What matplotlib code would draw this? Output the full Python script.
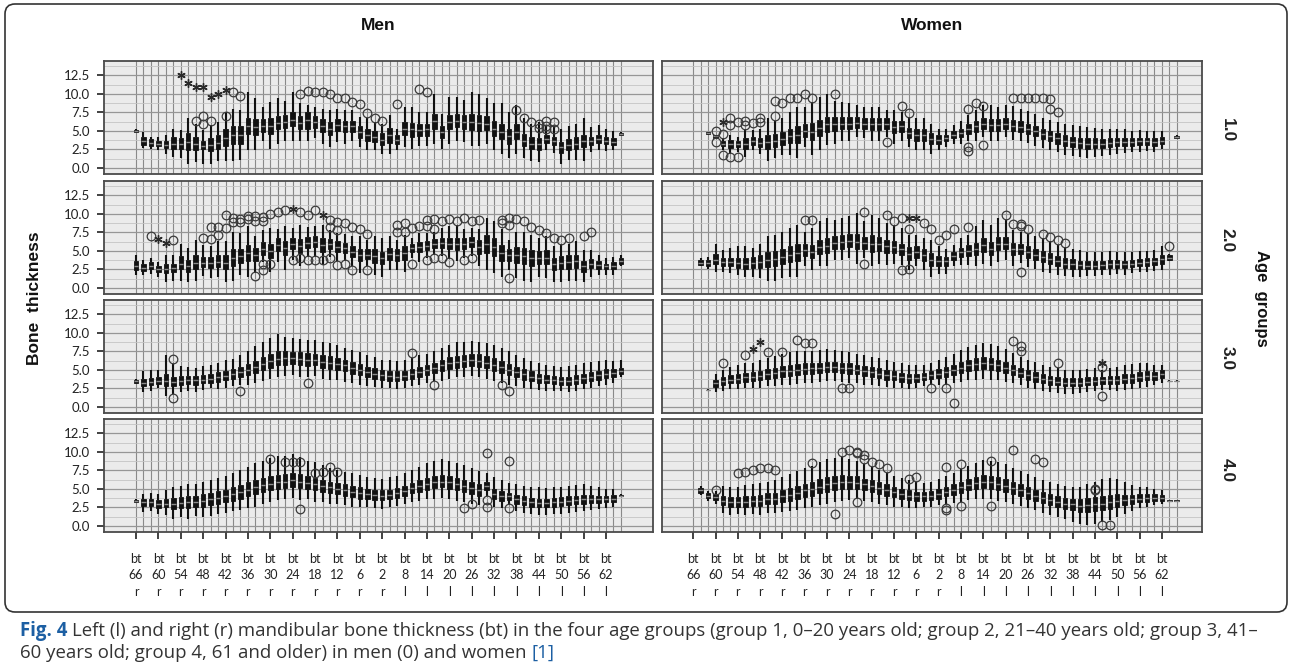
import matplotlib
matplotlib.use('Agg')
import matplotlib.pyplot as plt
from matplotlib.patches import FancyBboxPatch
from matplotlib.transforms import IdentityTransform

plt.rcParams['font.family'] = ['Lato', 'DejaVu Sans']

# x categories: 66 measuring sites, every third one labelled
n_cat = 66
tick_pos = list(range(0, 64, 3))
tick_num = ['66', '60', '54', '48', '42', '36', '30', '24', '18', '12', '6', '2',
            '8', '14', '20', '26', '32', '38', '44', '50', '56', '62']
tick_side = ['r'] * 12 + ['l'] * 10
tick_labels = ['bt\n%s\n%s' % (n, s) for n, s in zip(tick_num, tick_side)]
y_ticks = [0.0, 2.5, 5.0, 7.5, 10.0, 12.5]
row_names = ['1.0', '2.0', '3.0', '4.0']

# box stats per site: (whisker low, q1, median, q3, whisker high), None = no data
men_g1 = [
    (4.8, 4.9, 5.0, 5.1, 5.2), (2.75, 3.1, 3.6, 4.2, 4.85), (2.5, 3.0, 3.4, 3.9, 4.2),
    (2.4, 2.9, 3.3, 3.7, 4.2), (1.9, 2.7, 3.1, 3.7, 4.4), (1.5, 2.6, 3.3, 4.2, 5.3),
    (1.4, 2.5, 3.2, 4.0, 5.1), (0.6, 2.4, 3.5, 4.7, 6.8), (0.8, 2.4, 3.2, 4.2, 6.0),
    (0.6, 2.5, 3.0, 3.6, 5.1), (0.6, 2.3, 3.1, 4.0, 5.8), (1.0, 2.6, 3.4, 4.4, 6.2),
    (1.0, 3.0, 4.0, 5.2, 7.6), (1.0, 3.2, 4.4, 5.6, 8.0), (1.1, 3.3, 4.4, 5.6, 7.8),
    (2.4, 4.6, 5.6, 6.8, 10.3), (2.4, 4.5, 5.5, 6.6, 9.4), (3.7, 4.9, 5.7, 6.6, 8.2),
    (2.6, 4.6, 5.6, 6.7, 8.9), (3.3, 5.2, 6.1, 7.0, 9.4), (3.7, 5.4, 6.2, 7.1, 9.1),
    (3.7, 5.6, 6.5, 7.5, 10.3), (3.7, 5.3, 6.1, 7.0, 8.7), (3.7, 5.3, 6.5, 7.6, 8.5),
    (4.0, 5.4, 6.2, 7.0, 8.2), (3.3, 4.9, 5.7, 6.6, 8.0), (2.8, 4.5, 5.3, 6.2, 7.8),
    (3.5, 5.0, 5.8, 6.6, 8.0), (3.3, 4.8, 5.6, 6.4, 7.8), (3.7, 4.9, 5.6, 6.4, 7.8),
    (2.8, 4.1, 4.8, 5.6, 6.9), (2.4, 3.7, 4.4, 5.3, 6.7), (2.4, 3.5, 4.2, 5.0, 6.2),
    (1.9, 3.1, 3.8, 4.7, 6.0), (1.9, 3.4, 4.4, 5.4, 7.1), (2.4, 3.3, 3.8, 4.4, 5.3),
    (2.8, 4.4, 5.3, 6.2, 8.2), (2.6, 4.2, 5.2, 6.1, 8.2), (2.9, 4.3, 5.1, 5.9, 7.6),
    (2.9, 4.3, 5.2, 6.0, 7.6), (3.3, 5.3, 6.3, 7.3, 10.0), (2.6, 4.0, 4.9, 5.7, 7.3),
    (3.3, 5.2, 6.2, 7.2, 9.6), (3.7, 5.5, 6.4, 7.3, 9.6), (3.5, 5.2, 6.2, 7.1, 9.2),
    (2.9, 5.1, 6.2, 7.3, 10.3), (2.9, 5.0, 6.1, 7.2, 10.0), (3.3, 5.1, 6.0, 7.0, 9.4),
    (2.4, 4.3, 5.3, 6.4, 8.7), (1.9, 3.9, 4.9, 6.0, 8.7), (1.3, 3.2, 4.3, 5.3, 7.6),
    (1.9, 3.9, 4.8, 5.9, 8.5), (1.3, 2.9, 3.7, 4.6, 6.7), (1.0, 2.6, 3.3, 4.2, 6.0),
    (0.8, 2.4, 3.2, 4.1, 6.2), (2.4, 3.4, 3.9, 4.5, 5.8), (2.0, 3.1, 3.6, 4.2, 5.6),
    (0.6, 2.0, 2.8, 3.5, 5.3), (1.1, 2.4, 3.1, 3.9, 5.6), (1.1, 2.6, 3.3, 4.2, 6.0),
    (1.0, 2.8, 3.6, 4.5, 6.8), (2.2, 3.1, 3.6, 4.2, 5.5), (2.4, 3.4, 3.9, 4.5, 5.8),
    (2.3, 3.2, 3.6, 4.2, 5.3), (2.4, 3.1, 3.5, 4.0, 5.0), (4.4, 4.5, 4.6, 4.7, 4.8),
]
men_g1_out = [(8, 6.4), (9, 7.0), (9, 6.0), (10, 6.4), (12, 7.0), (13, 10.2), (14, 9.7),
              (22, 10.0), (23, 10.4), (24, 10.2), (25, 10.3), (26, 10.0), (27, 9.5),
              (28, 9.5), (29, 8.9), (30, 8.6), (31, 7.4), (32, 6.8), (33, 6.4), (35, 8.6),
              (38, 10.6), (39, 10.3), (51, 7.8), (52, 6.8), (53, 6.2), (54, 6.0),
              (54, 5.45), (55, 6.35), (55, 5.6), (55, 5.3), (56, 6.2), (56, 5.3)]
men_g1_ext = [(6, 12.5), (7, 11.4), (8, 10.9), (9, 10.9), (10, 9.6), (11, 10.0), (12, 10.5)]

men_g2 = [
    (1.7, 2.4, 2.9, 3.6, 4.45), (1.7, 2.3, 2.7, 3.2, 3.8), (1.9, 2.5, 3.0, 3.5, 4.1),
    (1.5, 2.2, 2.6, 3.0, 3.5), (0.8, 2.0, 2.6, 3.3, 4.45), (1.0, 2.1, 2.7, 3.3, 4.45),
    (1.0, 2.5, 3.3, 4.3, 6.0), (0.8, 2.2, 2.9, 3.8, 5.4), (1.0, 2.6, 3.4, 4.4, 6.5),
    (1.6, 2.8, 3.4, 4.2, 5.8), (1.4, 2.7, 3.4, 4.2, 5.6), (1.5, 2.8, 3.5, 4.4, 6.3),
    (0.8, 2.5, 3.4, 4.4, 6.3), (1.0, 3.0, 4.0, 5.2, 7.6), (1.7, 3.4, 4.3, 5.3, 7.4),
    (1.5, 3.6, 4.7, 5.8, 8.3), (2.0, 3.6, 4.4, 5.4, 7.0), (3.5, 4.5, 5.3, 6.2, 7.8),
    (2.2, 4.0, 5.0, 6.0, 8.1), (3.5, 5.0, 5.8, 6.7, 7.9), (2.4, 4.4, 5.4, 6.4, 8.3),
    (3.8, 5.2, 5.9, 6.7, 8.1), (2.9, 4.7, 5.6, 6.6, 8.5), (4.2, 5.4, 6.1, 6.9, 8.2),
    (4.2, 5.5, 6.2, 7.0, 8.3), (3.1, 4.9, 5.8, 6.7, 8.5), (4.2, 5.3, 5.9, 6.6, 7.8),
    (3.6, 4.8, 5.5, 6.3, 7.4), (3.6, 4.7, 5.4, 6.1, 7.3), (2.9, 4.2, 4.9, 5.7, 7.0),
    (2.0, 3.6, 4.4, 5.3, 7.0), (2.9, 3.9, 4.5, 5.2, 6.5), (1.7, 3.4, 4.3, 5.2, 7.0),
    (1.5, 3.2, 4.0, 4.9, 6.7), (2.4, 3.8, 4.6, 5.4, 7.0), (2.4, 3.7, 4.4, 5.2, 6.5),
    (2.2, 3.8, 4.7, 5.6, 7.2), (4.0, 4.9, 5.4, 5.9, 6.7), (3.5, 4.8, 5.5, 6.2, 7.4),
    (4.0, 5.1, 5.7, 6.3, 7.4), (4.4, 5.4, 6.0, 6.6, 7.6), (4.3, 5.4, 6.1, 6.8, 8.1),
    (3.9, 5.3, 6.0, 6.8, 8.3), (3.6, 5.1, 5.9, 6.8, 8.5), (4.1, 5.3, 6.0, 6.7, 7.9),
    (4.3, 5.5, 6.2, 6.9, 8.1), (2.9, 4.6, 5.5, 6.5, 7.9), (2.4, 4.7, 5.9, 7.1, 9.45),
    (2.0, 4.3, 5.5, 6.7, 9.0), (1.5, 3.6, 4.7, 5.8, 7.9), (2.4, 3.7, 4.4, 5.2, 6.5),
    (1.3, 3.4, 4.4, 5.5, 7.6), (1.0, 3.2, 4.3, 5.4, 7.6), (0.8, 2.9, 4.0, 5.1, 7.2),
    (1.5, 3.2, 4.1, 5.0, 6.7), (1.3, 3.2, 4.1, 5.1, 7.0), (0.8, 2.4, 3.2, 4.0, 5.6),
    (0.8, 2.5, 3.4, 4.3, 6.0), (1.0, 2.6, 3.5, 4.4, 6.0), (1.0, 2.7, 3.6, 4.5, 6.3),
    (0.8, 2.2, 2.9, 3.7, 5.1), (1.5, 2.7, 3.3, 3.9, 5.1), (1.7, 2.6, 3.1, 3.6, 4.45),
    (1.7, 2.5, 2.9, 3.3, 4.0), (1.7, 2.5, 3.0, 3.5, 4.2), (2.9, 3.2, 3.6, 4.1, 4.45),
]
men_g2_out = [(2, 7.0), (5, 6.5), (9, 6.7), (10, 6.6), (10, 8.2), (11, 7.2), (11, 8.2),
              (12, 8.1), (12, 9.8), (13, 9.45), (13, 8.9), (14, 9.3), (14, 8.9), (15, 9.7),
              (15, 9.3), (16, 9.7), (16, 9.0), (16, 1.6), (17, 9.6), (17, 9.1), (17, 2.4),
              (17, 3.2), (18, 10.0), (18, 3.2), (19, 10.2), (20, 10.5), (21, 3.8),
              (22, 10.2), (22, 4.0), (23, 9.8), (23, 3.8), (24, 10.5), (24, 3.8), (25, 3.8),
              (26, 9.2), (26, 8.2), (26, 4.0), (27, 8.9), (27, 7.8), (27, 3.1), (28, 8.7),
              (28, 3.2), (29, 8.2), (29, 2.4), (30, 8.0), (31, 7.3), (31, 2.4), (35, 7.6),
              (35, 8.5), (36, 7.6), (36, 8.8), (37, 8.1), (37, 3.2), (38, 8.4), (39, 8.3),
              (39, 9.2), (39, 3.8), (40, 9.3), (40, 8.0), (40, 4.0), (41, 9.0), (41, 4.0),
              (42, 9.3), (42, 3.5), (43, 9.1), (44, 9.5), (44, 3.8), (45, 9.0), (45, 4.0),
              (46, 9.2), (49, 9.2), (49, 8.8), (50, 9.45), (50, 8.5), (50, 1.3), (51, 9.3),
              (52, 9.1), (53, 8.2), (54, 7.8), (55, 7.4), (56, 6.7), (57, 6.5), (58, 6.7),
              (60, 7.0), (61, 7.6)]
men_g2_ext = [(3, 6.6), (4, 6.1), (21, 10.7), (25, 9.8)]

men_g3 = [
    (3.2, 3.3, 3.5, 3.7, 3.8), (2.0, 2.8, 3.3, 3.8, 4.8), (2.2, 3.0, 3.4, 3.9, 5.0),
    (2.5, 3.1, 3.5, 4.0, 5.0), (1.5, 2.8, 3.5, 4.4, 7.0), (1.8, 2.8, 3.4, 4.1, 5.8),
    (2.0, 2.9, 3.5, 4.2, 5.5), (2.2, 3.1, 3.6, 4.2, 5.4), (2.0, 3.0, 3.6, 4.2, 5.3),
    (2.3, 3.2, 3.7, 4.3, 5.5), (2.5, 3.3, 3.8, 4.4, 5.6), (2.4, 3.4, 4.0, 4.7, 6.0),
    (2.6, 3.6, 4.2, 4.9, 6.3), (2.8, 3.8, 4.4, 5.1, 6.5), (3.0, 4.0, 4.7, 5.4, 7.0),
    (3.0, 4.3, 5.0, 5.8, 7.6), (3.3, 4.6, 5.4, 6.2, 8.2), (3.5, 5.0, 5.8, 6.7, 8.8),
    (3.8, 5.3, 6.2, 7.1, 9.3), (4.0, 5.6, 6.5, 7.5, 9.8), (4.2, 5.7, 6.6, 7.5, 9.5),
    (4.3, 5.8, 6.6, 7.4, 9.3), (4.0, 5.6, 6.5, 7.4, 9.2), (4.0, 5.5, 6.4, 7.3, 9.0),
    (4.2, 5.6, 6.4, 7.2, 9.0), (3.8, 5.3, 6.1, 7.0, 8.8), (3.6, 5.1, 6.0, 6.9, 8.6),
    (3.6, 5.0, 5.8, 6.6, 8.3), (3.4, 4.8, 5.6, 6.4, 8.0), (3.2, 4.5, 5.3, 6.1, 7.7),
    (3.0, 4.3, 5.0, 5.8, 7.4), (2.8, 4.0, 4.7, 5.4, 7.0), (2.7, 3.8, 4.5, 5.2, 6.7),
    (2.6, 3.7, 4.3, 5.0, 6.4), (2.5, 3.5, 4.2, 4.9, 6.3), (2.4, 3.5, 4.1, 4.8, 6.2),
    (2.5, 3.6, 4.2, 4.9, 6.4), (2.8, 3.8, 4.4, 5.1, 6.6), (3.0, 4.0, 4.7, 5.4, 7.0),
    (3.3, 4.3, 5.0, 5.7, 7.2), (3.5, 4.6, 5.3, 6.0, 7.6), (3.5, 4.8, 5.6, 6.4, 8.0),
    (3.8, 5.1, 5.9, 6.7, 8.4), (4.0, 5.3, 6.1, 6.9, 8.7), (4.0, 5.4, 6.2, 7.0, 8.8),
    (4.2, 5.5, 6.3, 7.1, 8.9), (4.0, 5.4, 6.2, 7.1, 8.8), (3.8, 5.2, 6.0, 6.9, 8.6),
    (3.5, 4.9, 5.7, 6.6, 8.3), (3.3, 4.6, 5.4, 6.2, 8.0), (3.0, 4.3, 5.0, 5.8, 7.5),
    (2.8, 4.0, 4.7, 5.4, 7.0), (2.6, 3.7, 4.4, 5.1, 6.6), (2.4, 3.5, 4.1, 4.8, 6.2),
    (2.3, 3.3, 3.9, 4.5, 5.9), (2.2, 3.2, 3.7, 4.3, 5.6), (2.2, 3.1, 3.6, 4.2, 5.5),
    (2.1, 3.0, 3.5, 4.1, 5.4), (2.0, 3.0, 3.5, 4.1, 5.5), (2.2, 3.1, 3.7, 4.3, 5.7),
    (2.4, 3.3, 3.9, 4.5, 5.9), (2.6, 3.5, 4.1, 4.7, 6.1), (2.8, 3.7, 4.3, 4.9, 6.2),
    (3.0, 3.9, 4.5, 5.1, 6.3), (3.3, 4.1, 4.6, 5.1, 6.2), (4.0, 4.4, 4.8, 5.3, 6.3),
]
men_g3_out = [(5, 6.5), (5, 1.2), (14, 2.2), (23, 3.3), (37, 7.3), (40, 3.0), (49, 2.9), (50, 2.2)]
men_g3_ext = []

men_g4 = [
    (3.2, 3.3, 3.4, 3.5, 3.6), (1.9, 2.7, 3.2, 3.7, 4.3), (2.0, 2.7, 3.2, 3.7, 4.5),
    (1.6, 2.4, 2.9, 3.5, 4.3), (1.5, 2.5, 3.0, 3.6, 4.8), (1.0, 2.3, 3.0, 3.8, 5.3),
    (1.2, 2.4, 3.1, 3.9, 5.4), (1.0, 2.4, 3.2, 4.0, 5.6), (1.3, 2.6, 3.3, 4.1, 5.7),
    (1.2, 2.6, 3.4, 4.3, 6.0), (1.4, 2.8, 3.6, 4.5, 6.2), (1.6, 3.0, 3.8, 4.7, 6.5),
    (1.8, 3.2, 4.0, 4.9, 6.8), (2.0, 3.4, 4.3, 5.2, 7.2), (2.2, 3.7, 4.6, 5.5, 7.6),
    (2.4, 4.0, 4.9, 5.9, 8.0), (2.6, 4.3, 5.2, 6.2, 8.5), (3.0, 4.6, 5.5, 6.5, 8.8),
    (3.2, 4.8, 5.7, 6.7, 9.2), (3.5, 5.0, 5.9, 6.9, 9.4), (3.6, 5.1, 6.0, 7.0, 9.5),
    (3.8, 5.3, 6.2, 7.1, 9.7), (3.5, 5.1, 6.0, 7.0, 9.3), (3.6, 5.0, 5.8, 6.7, 8.8),
    (3.3, 4.8, 5.6, 6.5, 8.6), (3.2, 4.6, 5.4, 6.2, 8.2), (3.0, 4.4, 5.2, 6.0, 7.8),
    (3.0, 4.3, 5.0, 5.8, 7.5), (2.8, 4.1, 4.8, 5.6, 7.3), (2.6, 3.9, 4.6, 5.4, 7.1),
    (2.5, 3.7, 4.4, 5.2, 6.9), (2.5, 3.6, 4.3, 5.0, 6.6), (2.4, 3.5, 4.2, 4.9, 6.5),
    (2.3, 3.5, 4.1, 4.8, 6.4), (2.5, 3.6, 4.2, 4.9, 6.6), (2.7, 3.8, 4.4, 5.1, 6.8),
    (3.0, 4.1, 4.7, 5.4, 7.2), (3.2, 4.4, 5.1, 5.8, 7.6), (3.4, 4.6, 5.4, 6.2, 8.0),
    (3.6, 4.9, 5.7, 6.5, 8.5), (3.7, 5.1, 5.9, 6.7, 8.8), (3.8, 5.2, 6.0, 6.9, 9.0),
    (3.6, 5.0, 5.9, 6.8, 8.8), (3.4, 4.8, 5.6, 6.5, 8.5), (3.2, 4.6, 5.4, 6.2, 8.2),
    (3.0, 4.3, 5.1, 5.9, 7.8), (2.8, 4.0, 4.8, 5.6, 7.4), (4.0, 4.8, 5.4, 6.0, 7.2),
    (2.5, 3.6, 4.3, 5.0, 6.6), (2.4, 3.4, 4.0, 4.7, 6.2), (2.8, 3.5, 4.0, 4.5, 5.8),
    (2.0, 3.0, 3.6, 4.2, 5.6), (1.8, 2.8, 3.4, 4.0, 5.4), (1.6, 2.6, 3.2, 3.8, 5.2),
    (1.5, 2.5, 3.1, 3.7, 5.2), (1.5, 2.5, 3.1, 3.7, 5.1), (1.6, 2.6, 3.2, 3.8, 5.2),
    (1.6, 2.7, 3.3, 3.9, 5.3), (1.8, 2.8, 3.4, 4.0, 5.4), (1.9, 2.9, 3.5, 4.1, 5.5),
    (2.0, 3.0, 3.6, 4.2, 5.6), (2.2, 3.1, 3.6, 4.2, 5.4), (2.3, 3.1, 3.6, 4.1, 5.2),
    (2.4, 3.2, 3.6, 4.1, 5.0), (2.6, 3.3, 3.7, 4.2, 5.0), (3.9, 4.0, 4.1, 4.2, 4.3),
]
men_g4_out = [(18, 9.0), (20, 8.6), (21, 8.6), (22, 8.6), (22, 2.3), (24, 7.1), (25, 7.3),
              (26, 7.9), (27, 7.3), (44, 2.4), (45, 3.0), (47, 9.9), (47, 3.5), (47, 2.5),
              (50, 8.8), (50, 2.4)]
men_g4_ext = []

women_g1 = [
    None, None, (4.5, 4.6, 4.7, 4.8, 4.9),
    (4.0, 4.1, 4.3, 4.4, 4.5), (2.4, 2.9, 3.3, 3.7, 4.0), (1.9, 2.7, 3.2, 3.8, 4.4),
    (2.2, 2.8, 3.2, 3.7, 4.2), (1.5, 2.6, 3.3, 4.1, 5.3), (2.4, 3.1, 3.6, 4.2, 5.1),
    (1.9, 2.8, 3.4, 4.1, 5.3), (1.0, 2.6, 3.5, 4.5, 6.7), (1.3, 2.8, 3.6, 4.6, 6.4),
    (1.7, 3.1, 3.9, 4.9, 6.7), (1.7, 3.4, 4.3, 5.3, 7.6), (1.3, 3.4, 4.5, 5.6, 8.2),
    (2.8, 4.2, 5.0, 5.9, 8.2), (1.7, 3.8, 4.9, 6.1, 8.9), (2.4, 4.3, 5.4, 6.5, 9.6),
    (3.1, 4.9, 5.9, 6.9, 10.0), (3.3, 5.0, 5.9, 6.9, 9.1), (3.7, 5.2, 6.0, 6.9, 8.9),
    (3.7, 5.2, 6.0, 6.9, 8.7), (4.2, 5.4, 6.1, 6.9, 8.5), (4.0, 5.3, 6.0, 6.8, 8.2),
    (3.7, 5.1, 5.9, 6.7, 8.2), (3.7, 5.1, 5.9, 6.7, 8.2), (4.2, 5.3, 6.0, 6.7, 7.8),
    (3.3, 4.7, 5.5, 6.3, 7.8), (3.7, 4.9, 5.6, 6.3, 7.6), (2.8, 4.0, 4.7, 5.4, 6.9),
    (2.4, 3.7, 4.4, 5.2, 6.7), (2.4, 3.7, 4.4, 5.2, 6.7), (1.9, 3.2, 3.9, 4.7, 6.0),
    (2.4, 3.3, 3.8, 4.4, 5.3), (2.8, 3.6, 4.0, 4.5, 5.3), (3.3, 4.0, 4.5, 5.0, 5.8),
    (3.3, 4.2, 4.7, 5.3, 6.4), (3.6, 4.6, 5.2, 5.9, 7.1), (3.7, 4.9, 5.6, 6.3, 7.8),
    (4.2, 5.3, 6.0, 6.7, 8.5), (3.7, 5.0, 5.8, 6.6, 8.5), (3.7, 5.0, 5.8, 6.6, 8.2),
    (4.2, 5.3, 6.0, 6.7, 8.5), (3.8, 5.0, 5.7, 6.5, 8.4), (3.6, 4.8, 5.5, 6.3, 8.0),
    (3.4, 4.6, 5.3, 6.0, 7.7), (3.0, 4.3, 5.0, 5.7, 7.3), (2.7, 3.9, 4.6, 5.3, 6.8),
    (2.4, 3.6, 4.3, 5.0, 6.5), (2.2, 3.3, 4.0, 4.7, 6.2), (1.8, 3.0, 3.7, 4.4, 5.9),
    (1.6, 2.8, 3.5, 4.2, 5.8), (1.5, 2.7, 3.4, 4.1, 5.6), (1.4, 2.6, 3.3, 4.0, 5.5),
    (1.5, 2.7, 3.3, 4.0, 5.4), (1.6, 2.7, 3.3, 3.9, 5.2), (1.8, 2.8, 3.4, 4.0, 5.2),
    (1.9, 2.9, 3.5, 4.1, 5.3), (2.0, 3.0, 3.5, 4.1, 5.2), (2.1, 3.0, 3.5, 4.0, 5.0),
    (2.2, 3.1, 3.6, 4.1, 5.1), (2.3, 3.1, 3.6, 4.1, 5.0), (2.2, 3.0, 3.5, 4.1, 5.0),
    (2.5, 3.2, 3.7, 4.2, 5.0), None, (4.0, 4.1, 4.2, 4.3, 4.4),
]
women_g1_out = [(3, 5.0), (3, 3.5), (4, 4.6), (4, 1.7), (5, 6.7), (5, 5.8), (5, 1.5), (6, 6.2),
                (6, 1.5), (7, 6.4), (7, 5.8), (8, 6.1), (9, 6.8), (9, 6.2), (11, 9.0), (11, 7.0),
                (12, 8.8), (13, 9.4), (14, 9.4), (15, 10.0), (16, 9.4), (19, 10.0), (26, 3.5),
                (28, 8.3), (29, 7.4), (37, 7.9), (37, 2.8), (37, 2.3), (38, 8.7), (39, 8.3),
                (39, 3.1), (43, 9.5), (44, 9.5), (45, 9.4), (46, 9.4), (47, 9.5), (48, 9.3),
                (48, 7.9), (49, 7.6)]
women_g1_ext = [(4, 6.2)]

women_g2 = [
    None, (2.9, 3.1, 3.4, 3.8, 4.0), (2.6, 3.0, 3.4, 3.8, 4.2),
    (2.2, 3.2, 3.8, 4.6, 6.0), (2.2, 3.0, 3.5, 4.1, 5.1), (2.0, 2.9, 3.5, 4.1, 5.4),
    (1.7, 2.7, 3.4, 4.1, 5.7), (1.5, 2.6, 3.3, 4.1, 5.6), (1.5, 2.7, 3.4, 4.2, 5.4),
    (1.3, 2.7, 3.5, 4.4, 6.0), (1.0, 2.8, 3.8, 4.9, 7.0), (1.0, 2.9, 3.9, 5.0, 7.2),
    (1.3, 3.2, 4.2, 5.3, 7.6), (1.5, 3.5, 4.5, 5.6, 8.1), (1.5, 3.6, 4.7, 5.9, 8.5),
    (2.9, 4.3, 5.1, 5.9, 7.6), (2.4, 4.0, 4.9, 5.8, 8.1), (2.9, 4.6, 5.5, 6.5, 9.0),
    (2.9, 4.7, 5.7, 6.7, 9.45), (3.8, 5.3, 6.1, 7.0, 9.2), (3.8, 5.3, 6.2, 7.1, 9.45),
    (4.0, 5.5, 6.4, 7.3, 9.7), (3.3, 5.2, 6.2, 7.3, 10.1), (4.0, 5.3, 6.1, 6.9, 9.0),
    (2.9, 4.9, 6.0, 7.1, 9.9), (3.3, 5.0, 5.9, 6.9, 9.45), (3.1, 4.7, 5.6, 6.5, 8.8),
    (3.3, 4.7, 5.5, 6.3, 8.5), (3.1, 4.4, 5.2, 6.0, 8.1), (2.4, 3.8, 4.6, 5.5, 7.2),
    (2.9, 4.1, 4.8, 5.6, 7.2), (2.4, 3.7, 4.5, 5.3, 6.7), (1.5, 3.0, 3.8, 4.7, 6.5),
    (1.9, 3.0, 3.6, 4.3, 5.6), (1.9, 3.0, 3.6, 4.2, 5.3), (2.9, 3.8, 4.3, 4.9, 5.8),
    (3.1, 4.2, 4.8, 5.4, 6.7), (3.1, 4.3, 5.0, 5.8, 7.2), (2.9, 4.4, 5.2, 6.1, 8.3),
    (3.3, 4.9, 5.8, 6.7, 9.2), (2.9, 4.5, 5.3, 6.2, 8.5), (3.5, 5.1, 6.0, 6.9, 9.45),
    (3.8, 5.2, 6.0, 6.9, 9.2), (3.0, 4.5, 5.3, 6.1, 7.8), (3.4, 4.6, 5.3, 6.0, 7.5),
    (2.8, 4.1, 4.8, 5.6, 7.3), (2.5, 3.8, 4.5, 5.3, 7.0), (2.2, 3.5, 4.2, 5.0, 6.7),
    (2.0, 3.2, 3.9, 4.7, 6.3), (1.8, 2.9, 3.6, 4.3, 5.8), (1.6, 2.7, 3.3, 4.0, 5.5),
    (1.5, 2.6, 3.2, 3.9, 5.3), (1.5, 2.5, 3.1, 3.7, 5.1), (1.6, 2.5, 3.0, 3.6, 4.8),
    (1.6, 2.5, 3.0, 3.6, 4.8), (1.7, 2.6, 3.1, 3.7, 4.9), (1.8, 2.7, 3.2, 3.8, 5.0),
    (1.9, 2.7, 3.2, 3.8, 4.9), (1.8, 2.7, 3.2, 3.7, 4.8), (2.0, 2.8, 3.3, 3.8, 4.8),
    (2.1, 2.9, 3.4, 3.9, 5.0), (2.2, 3.0, 3.5, 4.0, 5.0), (2.3, 3.1, 3.6, 4.1, 5.1),
    (2.4, 3.3, 3.9, 4.5, 5.7), (3.6, 3.8, 4.1, 4.4, 4.6), None,
]
women_g2_out = [(15, 9.2), (16, 9.2), (23, 10.3), (23, 3.3), (26, 9.9), (27, 9.0), (28, 9.45),
                (28, 2.4), (29, 7.9), (29, 2.6), (31, 8.8), (32, 7.9), (33, 6.5), (34, 7.2),
                (35, 7.9), (37, 8.2), (42, 9.8), (43, 8.6), (44, 8.6), (44, 8.3), (44, 2.2),
                (45, 8.0), (47, 7.3), (48, 6.9), (49, 6.5), (50, 6.1), (64, 5.6)]
women_g2_ext = [(29, 9.45), (30, 9.45)]

women_g3 = [
    None, None, (2.2, 2.25, 2.3, 2.35, 2.4),
    (2.0, 2.7, 3.2, 3.7, 4.5), (2.2, 3.0, 3.5, 4.0, 5.0), (2.4, 3.2, 3.7, 4.3, 5.4),
    (2.4, 3.3, 3.8, 4.4, 5.6), (2.5, 3.4, 4.0, 4.6, 5.9), (2.6, 3.5, 4.1, 4.7, 6.0),
    (2.6, 3.6, 4.2, 4.9, 6.3), (2.8, 3.8, 4.4, 5.1, 6.6), (2.8, 3.9, 4.6, 5.3, 6.9),
    (3.0, 4.1, 4.8, 5.5, 7.1), (3.0, 4.2, 4.9, 5.7, 7.4), (3.1, 4.3, 5.0, 5.8, 7.6),
    (3.2, 4.4, 5.1, 5.9, 7.6), (3.3, 4.5, 5.2, 5.9, 7.6), (3.4, 4.6, 5.3, 6.0, 7.7),
    (3.5, 4.7, 5.4, 6.1, 7.8), (3.5, 4.7, 5.4, 6.1, 7.7), (3.4, 4.6, 5.3, 6.0, 7.6),
    (3.3, 4.5, 5.2, 5.9, 7.4), (3.2, 4.4, 5.0, 5.7, 7.2), (3.0, 4.2, 4.8, 5.5, 7.0),
    (2.9, 4.0, 4.7, 5.4, 6.8), (2.8, 3.9, 4.5, 5.2, 6.6), (2.7, 3.7, 4.3, 5.0, 6.4),
    (2.6, 3.6, 4.2, 4.8, 6.1), (2.5, 3.4, 4.0, 4.6, 5.9), (2.4, 3.3, 3.9, 4.5, 5.7),
    (2.6, 3.4, 3.9, 4.5, 5.6), (2.8, 3.6, 4.1, 4.6, 5.7), (3.0, 3.8, 4.3, 4.9, 6.0),
    (3.0, 3.9, 4.5, 5.1, 6.3), (3.0, 4.0, 4.7, 5.4, 6.8), (3.2, 4.3, 5.0, 5.7, 7.2),
    (3.4, 4.6, 5.3, 6.1, 7.7), (3.6, 4.8, 5.6, 6.4, 8.1), (3.7, 5.0, 5.8, 6.6, 8.4),
    (3.8, 5.1, 5.9, 6.7, 8.6), (3.7, 5.0, 5.8, 6.6, 8.5), (3.6, 4.9, 5.6, 6.4, 8.2),
    (3.4, 4.6, 5.3, 6.1, 7.8), (3.2, 4.3, 5.0, 5.7, 7.3), (2.9, 4.0, 4.6, 5.3, 6.8),
    (2.6, 3.7, 4.3, 5.0, 6.4), (2.4, 3.4, 4.0, 4.7, 6.1), (2.2, 3.2, 3.8, 4.4, 5.7),
    (2.0, 3.0, 3.6, 4.2, 5.4), (1.9, 2.9, 3.4, 4.0, 5.2), (1.8, 2.8, 3.3, 3.9, 5.0),
    (1.8, 2.8, 3.3, 3.9, 5.0), (1.9, 2.8, 3.3, 3.9, 5.0), (2.0, 2.9, 3.4, 4.0, 5.1),
    (2.2, 3.0, 3.5, 4.1, 5.2), (2.3, 3.1, 3.6, 4.1, 5.0), (2.3, 3.1, 3.6, 4.2, 5.3),
    (2.2, 3.1, 3.6, 4.2, 5.4), (2.3, 3.2, 3.8, 4.4, 5.6), (2.4, 3.3, 3.9, 4.5, 5.8),
    (2.6, 3.5, 4.1, 4.7, 6.0), (2.7, 3.6, 4.2, 4.8, 6.0), (3.0, 3.7, 4.2, 4.7, 5.6),
    (3.3, 3.9, 4.4, 5.0, 5.7), (3.4, 3.45, 3.5, 3.55, 3.6), (3.4, 3.45, 3.5, 3.55, 3.6),
]
women_g3_out = [(4, 6.0), (7, 7.0), (10, 7.4), (12, 7.4), (14, 9.1), (15, 8.6), (16, 8.6),
                (20, 2.5), (21, 2.5), (32, 2.5), (34, 2.5), (35, 0.6), (43, 8.9), (44, 8.2),
                (44, 7.6), (49, 6.0), (55, 5.4), (55, 1.5)]
women_g3_ext = [(8, 7.8), (9, 8.7), (55, 6.0)]

women_g4 = [
    None, (4.2, 4.5, 4.8, 5.1, 5.4), (3.4, 3.8, 4.1, 4.4, 4.7),
    (3.0, 3.5, 3.9, 4.3, 4.7), (1.8, 2.8, 3.4, 4.1, 5.4), (1.5, 2.6, 3.2, 3.9, 5.3),
    (1.6, 2.6, 3.2, 3.9, 5.3), (1.5, 2.6, 3.3, 4.0, 5.5), (1.6, 2.7, 3.4, 4.1, 5.6),
    (1.5, 2.7, 3.4, 4.2, 5.8), (1.7, 2.9, 3.6, 4.4, 6.0), (1.8, 3.0, 3.7, 4.5, 6.2),
    (1.9, 3.2, 4.0, 4.8, 6.6), (2.0, 3.4, 4.2, 5.1, 7.0), (2.2, 3.6, 4.5, 5.4, 7.4),
    (2.4, 3.9, 4.8, 5.7, 7.8), (2.6, 4.1, 5.0, 6.0, 8.1), (2.8, 4.4, 5.3, 6.3, 8.6),
    (3.0, 4.6, 5.6, 6.6, 9.0), (3.2, 4.8, 5.8, 6.8, 9.2), (3.4, 5.0, 5.9, 6.9, 9.3),
    (3.5, 5.0, 5.9, 6.8, 9.0), (3.6, 5.0, 5.8, 6.7, 8.7), (3.4, 4.8, 5.6, 6.4, 8.3),
    (3.2, 4.6, 5.4, 6.2, 8.0), (3.0, 4.3, 5.1, 5.9, 7.6), (2.8, 4.1, 4.8, 5.6, 7.2),
    (2.6, 3.9, 4.6, 5.3, 6.8), (2.5, 3.7, 4.3, 5.0, 6.5), (2.4, 3.5, 4.1, 4.8, 6.2),
    (2.4, 3.4, 4.0, 4.6, 5.9), (2.5, 3.4, 4.0, 4.6, 5.8), (2.6, 3.5, 4.1, 4.7, 6.0),
    (2.8, 3.7, 4.3, 5.0, 6.3), (3.0, 4.0, 4.6, 5.3, 6.8), (3.1, 4.2, 4.9, 5.6, 7.2),
    (3.3, 4.5, 5.2, 6.0, 7.7), (3.5, 4.8, 5.5, 6.3, 8.1), (3.6, 5.0, 5.8, 6.6, 8.5),
    (3.7, 5.1, 6.0, 6.9, 8.9), (3.6, 5.0, 5.9, 6.8, 8.8), (3.4, 4.8, 5.7, 6.6, 8.6),
    (3.2, 4.6, 5.4, 6.3, 8.3), (3.0, 4.3, 5.1, 5.9, 7.8), (2.7, 4.0, 4.8, 5.6, 7.4),
    (2.4, 3.7, 4.4, 5.2, 7.0), (2.1, 3.4, 4.1, 4.9, 6.6), (1.8, 3.1, 3.8, 4.6, 6.2),
    (1.5, 2.8, 3.5, 4.3, 5.9), (1.2, 2.5, 3.2, 4.0, 5.6), (0.9, 2.3, 3.0, 3.8, 5.4),
    (0.6, 2.1, 2.9, 3.7, 5.3), (0.3, 1.9, 2.7, 3.6, 5.3), (0.2, 1.9, 2.8, 3.8, 5.6),
    (0.3, 2.0, 2.9, 3.9, 6.0), (0.5, 2.1, 3.0, 4.0, 6.3), (0.8, 2.3, 3.2, 4.2, 6.5),
    (1.2, 2.6, 3.4, 4.3, 6.3), (1.6, 2.8, 3.5, 4.2, 5.9), (2.0, 3.0, 3.6, 4.2, 5.5),
    (2.4, 3.2, 3.7, 4.3, 5.3), (2.6, 3.3, 3.8, 4.3, 5.2), (2.8, 3.4, 3.8, 4.3, 5.0),
    (2.9, 3.4, 3.8, 4.2, 4.8), (3.3, 3.35, 3.4, 3.45, 3.5), (3.3, 3.35, 3.4, 3.45, 3.5),
]
women_g4_out = [(3, 4.8), (6, 7.1), (7, 7.3), (8, 7.5), (9, 7.8), (10, 7.8), (11, 7.6), (16, 8.5),
                (19, 1.6), (20, 10.0), (21, 10.2), (22, 10.0), (22, 9.8), (23, 9.6), (23, 9.0),
                (24, 8.6), (22, 3.2), (25, 8.3), (26, 7.8), (29, 6.3), (30, 6.6), (34, 8.0),
                (34, 2.4), (34, 2.2), (36, 8.4), (36, 2.7), (40, 8.7), (40, 2.7), (43, 10.2),
                (46, 9.1), (47, 8.6), (54, 5.0), (54, 4.8), (55, 0.1), (56, 0.1)]
women_g4_ext = []

men_panels = [(men_g1, men_g1_out, men_g1_ext), (men_g2, men_g2_out, men_g2_ext),
              (men_g3, men_g3_out, men_g3_ext), (men_g4, men_g4_out, men_g4_ext)]
women_panels = [(women_g1, women_g1_out, women_g1_ext), (women_g2, women_g2_out, women_g2_ext),
                (women_g3, women_g3_out, women_g3_ext), (women_g4, women_g4_out, women_g4_ext)]


def draw_panel(ax, boxes, outs, exts):
    stats, pos = [], []
    for i, b in enumerate(boxes):
        if b is None:
            continue
        lo, q1, med, q3, hi = b
        stats.append(dict(whislo=lo, q1=q1, med=med, q3=q3, whishi=hi, fliers=[]))
        pos.append(i)
    ax.bxp(stats, positions=pos, widths=0.6, patch_artist=True, showcaps=False,
           showfliers=False, manage_ticks=False,
           boxprops=dict(facecolor='#111111', edgecolor='#111111', linewidth=0.6),
           whiskerprops=dict(color='#111111', linewidth=1.5, solid_capstyle='butt'),
           medianprops=dict(color='#8c8c8c', linewidth=1.0))
    if outs:
        ax.plot([o[0] for o in outs], [o[1] for o in outs], 'o', ls='none', ms=6.2,
                mfc='none', mec='#3a3a3a', mew=0.9, zorder=4)
    if exts:
        ax.plot([e[0] for e in exts], [e[1] for e in exts], marker=(6, 2, 0), ls='none',
                ms=6, mec='#2a2a2a', mew=1.0, zorder=4)


W, H = 1292, 666
fig = plt.figure(figsize=(W / 100, H / 100), dpi=100)

row_tops = [61, 181, 300, 419]
row_h = 113
cols = [(104, 653, -4.29, 69.3), (662, 1202, -4.2, 68.4)]

for c, panels in enumerate([men_panels, women_panels]):
    x0, x1, xl, xr = cols[c]
    for r, (boxes, outs, exts) in enumerate(panels):
        top = row_tops[r]
        ax = fig.add_axes([x0 / W, 1 - (top + row_h) / H, (x1 - x0) / W, row_h / H])
        ax.set_facecolor('#ebebeb')
        ax.set_xlim(xl, xr)
        ax.set_ylim(-0.81, 14.43)
        ax.set_xticks(tick_pos)
        ax.set_xticks(range(n_cat), minor=True)
        ax.set_yticks(y_ticks)
        ax.set_yticks([1.25, 3.75, 6.25, 8.75, 11.25, 13.75], minor=True)
        ax.set_axisbelow(True)
        ax.grid(True, which='both', axis='x', color='#8a8a8a', linewidth=0.8)
        ax.grid(True, which='major', axis='y', color='#969696', linewidth=0.9)
        ax.grid(True, which='minor', axis='y', color='#c4c4c4', linewidth=0.6)
        for s in ax.spines.values():
            s.set_color('#4a4a4a')
            s.set_linewidth(1.3)
        ax.tick_params(which='minor', length=0)
        if r == 3:
            ax.set_xticklabels(tick_labels, fontsize=9, linespacing=1.45, color='#222')
            ax.tick_params(axis='x', which='major', length=5, width=1.3, color='#333',
                           direction='out', pad=10)
        else:
            ax.tick_params(axis='x', which='major', length=0, labelbottom=False)
        if c == 0:
            ax.set_yticklabels(['%.1f' % v for v in y_ticks], fontsize=9.5, color='#222')
            ax.tick_params(axis='y', which='major', length=5, width=1.3, color='#333',
                           direction='out', pad=5)
        else:
            ax.tick_params(axis='y', which='major', length=0, labelleft=False)
        draw_panel(ax, boxes, outs, exts)

# facet and axis titles
title_font = ['Liberation Sans', 'DejaVu Sans']
fig.text(378 / W, 1 - 25 / H, 'Men', ha='center', va='center', fontsize=12.5,
         weight='bold', family=title_font, color='#111')
fig.text(932 / W, 1 - 25 / H, 'Women', ha='center', va='center', fontsize=12.5,
         weight='bold', family=title_font, color='#111')
fig.text(35 / W, 1 - 298 / H, 'Bone  thickness', ha='center', va='center', rotation=90,
         fontsize=12.5, weight='bold', family=title_font, color='#111')
fig.text(1261 / W, 1 - 298 / H, 'Age  groups', ha='center', va='center', rotation=270,
         fontsize=12, weight='bold', family=title_font, color='#111')
for name, yc in zip(row_names, [130, 240, 358, 470]):
    fig.text(1227 / W, 1 - yc / H, name, ha='center', va='center', rotation=270,
             fontsize=12.5, weight='bold', family=title_font, color='#222')

# rounded frame around the figure
frame = FancyBboxPatch((5, H - 612), 1282, 608, boxstyle='round,pad=0,rounding_size=10',
                       transform=IdentityTransform(), fill=False, edgecolor='#333',
                       linewidth=1.2)
fig.patches.append(frame)

# caption
cap_font = ['Open Sans', 'DejaVu Sans']
blue = '#1c5fa3'
cap_size = 13.45
renderer = fig.canvas.get_renderer()
y1, y2 = 1 - 631 / H, 1 - 653 / H
t = fig.text(20 / W, y1, 'Fig. 4', fontsize=cap_size, weight='bold', color=blue,
             family=cap_font, va='center')
bb = t.get_window_extent(renderer)
fig.text(bb.x1 / W + 5 / W, y1,
         'Left (l) and right (r) mandibular bone thickness (bt) in the four age groups '
         '(group 1, 0\u201320 years old; group 2, 21\u201340 years old; group 3, 41\u2013',
         fontsize=cap_size, color='#333', family=cap_font, va='center')
t2 = fig.text(20 / W, y2, '60 years old; group 4, 61 and older) in men (0) and women ',
              fontsize=cap_size, color='#333', family=cap_font, va='center')
bb2 = t2.get_window_extent(renderer)
fig.text(bb2.x1 / W, y2, '[1]', fontsize=cap_size, color=blue, family=cap_font, va='center')

fig.savefig('out.png', dpi=100)
